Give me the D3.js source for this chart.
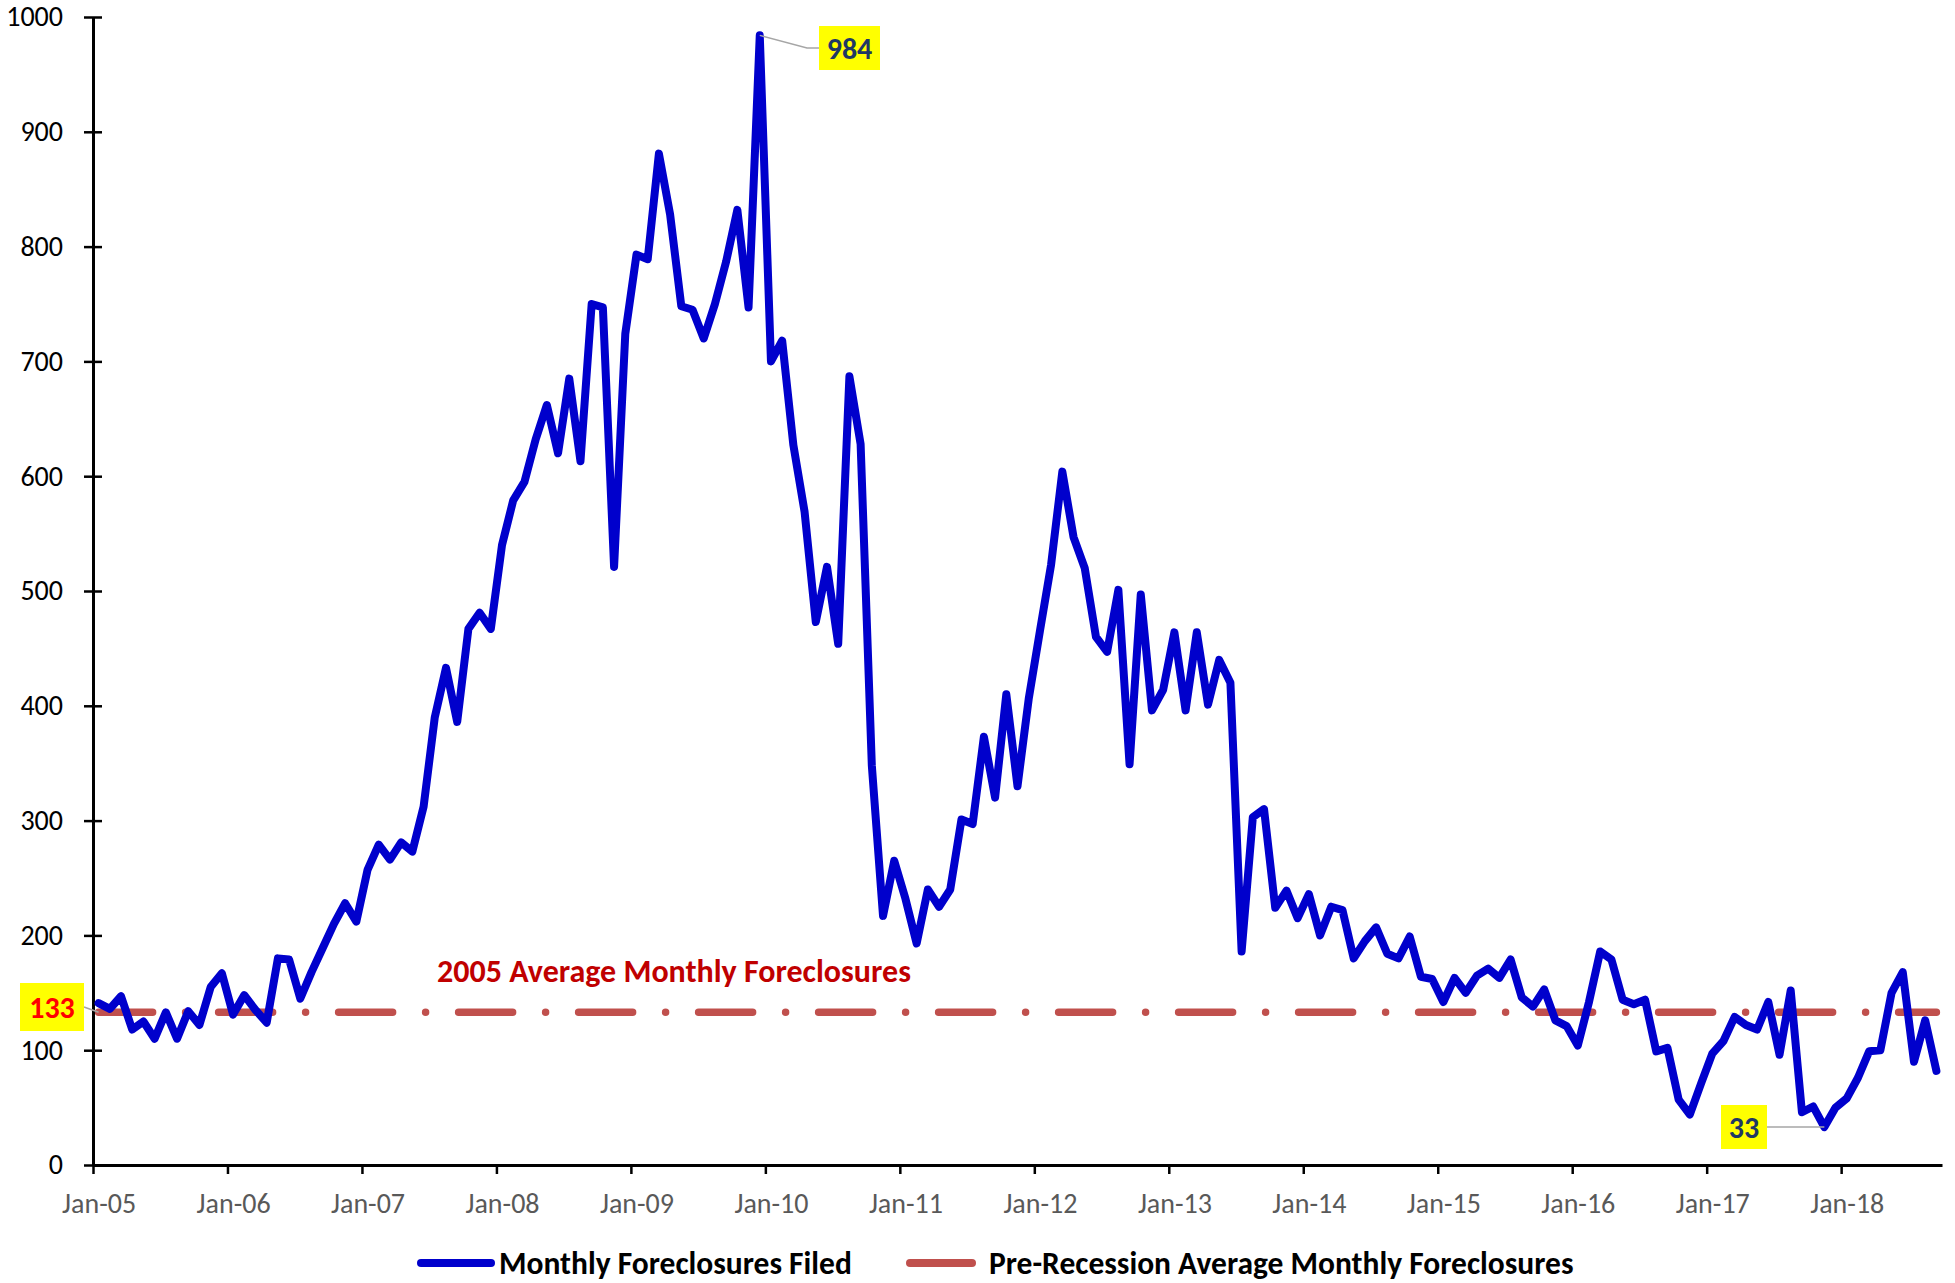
<!DOCTYPE html>
<html>
<head>
<meta charset="utf-8">
<script src="https://cdn.jsdelivr.net/npm/d3@7"></script>
<style>
  body { margin: 0; background: #fff; }
  text { font-family: Carlito, Calibri, Lato, sans-serif; }
</style>
</head>
<body>
<div class="canvas"></div>
<script>
// monthly foreclosures filed, Jan-05 .. Sep-18 (one row per year)
const filings = [
  141, 136, 147, 118, 125, 110, 133, 110, 134, 122, 155, 167,   // 2005
  131, 148, 135, 124, 180, 179, 145, 168, 189, 210, 228, 212,   // 2006
  257, 279, 266, 281, 273, 312, 390, 433, 386, 467, 481, 467,   // 2007
  540, 579, 595, 632, 662, 620, 685, 613, 750, 747, 521, 724,   // 2008
  793, 789, 881, 828, 748, 745, 720, 750, 787, 832, 747, 984,   // 2009
  700, 718, 627, 569, 473, 521, 454, 687, 628, 348, 217, 265,   // 2010
  232, 193, 240, 225, 240, 301, 297, 373, 320, 410, 330, 406,   // 2011
  465, 523, 604, 547, 520, 460, 447, 501, 349, 497, 396, 414,   // 2012
  464, 396, 464, 401, 440, 420, 186, 303, 310, 224, 239, 215,   // 2013
  236, 200, 225, 222, 180, 195, 207, 184, 180, 199, 164, 162,   // 2014
  142, 163, 150, 165, 171, 163, 179, 146, 138, 153, 126, 121,   // 2015
  104, 142, 186, 179, 144, 140, 144, 99, 102, 57, 44, 71,       // 2016
  97, 108, 129, 122, 118, 142, 96, 152, 46, 51, 33, 50,         // 2017
  58, 76, 99, 100, 150, 168, 90, 126, 82                        // 2018
];

const preRecessionAvg = 133;
const xTickLabels = ['Jan-05', 'Jan-06', 'Jan-07', 'Jan-08', 'Jan-09', 'Jan-10', 'Jan-11',
  'Jan-12', 'Jan-13', 'Jan-14', 'Jan-15', 'Jan-16', 'Jan-17', 'Jan-18'];
const yTicks = [0, 100, 200, 300, 400, 500, 600, 700, 800, 900, 1000];
const seriesNames = ['Monthly Foreclosures Filed', 'Pre-Recession Average Monthly Foreclosures'];
const avgLabel = '2005 Average Monthly Foreclosures';

const width = 1955, height = 1283;
const blue = '#0000CC', red = '#C0504D';

const svg = d3.select('.canvas')
  .append('svg')
  .attr('width', width)
  .attr('height', height);

// plot area
const plot = { left: 93, right: 1942, top: 17, bottom: 1165 };
const nSlots = filings.length; // 165 monthly slots

const x = d3.scaleLinear().domain([0, nSlots]).range([plot.left, plot.right]);
const y = d3.scaleLinear().domain([0, 1000]).range([plot.bottom, plot.top]);
const half = (x(1) - x(0)) / 2;

// y axis
const yAxis = d3.axisLeft(y)
  .tickValues(yTicks)
  .tickFormat(d3.format('d'))
  .tickSize(9)
  .tickSizeOuter(0);
const yAxisGroup = svg.append('g')
  .attr('transform', `translate(${plot.left},0)`)
  .call(yAxis);
yAxisGroup.select('.domain').attr('stroke', '#000').attr('stroke-width', 3);
yAxisGroup.selectAll('.tick line').attr('x1', 9).attr('stroke-width', 2.5);
yAxisGroup.selectAll('.tick text')
  .attr('x', -30)
  .attr('fill', '#000')
  .style('font-size', '28px');

// x axis (ticks on Jan boundaries)
const xAxis = d3.axisBottom(x)
  .tickValues(xTickLabels.map((d, i) => i * 12))
  .tickFormat((d, i) => xTickLabels[i])
  .tickSize(9)
  .tickSizeOuter(0);
const xAxisGroup = svg.append('g')
  .attr('transform', `translate(0,${plot.bottom})`)
  .call(xAxis);
xAxisGroup.select('.domain').attr('stroke', '#000').attr('stroke-width', 3);
xAxisGroup.selectAll('.tick line').attr('stroke-width', 2.5);
xAxisGroup.selectAll('.tick text')
  .attr('x', half)
  .attr('y', 38)
  .attr('dy', '0.35em')
  .attr('fill', '#595959')
  .style('font-size', '28px');

// average line
const avgLine = d3.line()
  .x(d => x(d + 0.5))
  .y(() => y(preRecessionAvg));
svg.append('path')
  .attr('d', avgLine([0, nSlots - 1]))
  .attr('fill', 'none')
  .attr('stroke', red)
  .attr('stroke-width', 7.5)
  .attr('stroke-linecap', 'round')
  .attr('stroke-dasharray', '54,33,0,33');

// main series
const line = d3.line()
  .x((d, i) => x(i + 0.5))
  .y(d => y(d));
svg.append('path')
  .attr('d', line(filings))
  .attr('fill', 'none')
  .attr('stroke', blue)
  .attr('stroke-width', 8)
  .attr('stroke-linejoin', 'round')
  .attr('stroke-linecap', 'round');

svg.append('text')
  .attr('x', 674)
  .attr('y', 971)
  .attr('dy', '0.35em')
  .attr('text-anchor', 'middle')
  .attr('fill', '#C00000')
  .attr('font-weight', 'bold')
  .style('font-size', '32px')
  .text(avgLabel);

// callouts
const callout = (label, bx, by, bw, bh, color, pts) => {
  svg.append('path')
    .attr('d', d3.line()(pts))
    .attr('fill', 'none')
    .attr('stroke', '#A6A6A6')
    .attr('stroke-width', 1.5);
  svg.append('rect')
    .attr('x', bx).attr('y', by)
    .attr('width', bw).attr('height', bh)
    .attr('fill', '#FFFF00');
  svg.append('text')
    .attr('x', bx + bw / 2)
    .attr('y', by + bh / 2)
    .attr('dy', '0.35em')
    .attr('text-anchor', 'middle')
    .attr('fill', color)
    .attr('font-weight', 'bold')
    .style('font-size', '30px')
    .text(label);
};

const maxIdx = d3.maxIndex(filings);
const minIdx = d3.minIndex(filings);
callout(filings[maxIdx], 819, 26, 61, 44, '#1F3864',
  [[x(maxIdx + 0.5), y(filings[maxIdx])], [807, 48], [819, 48]]);
callout(filings[minIdx], 1721, 1105, 46, 44, '#1F3864',
  [[1767, y(filings[minIdx])], [x(minIdx + 0.5), y(filings[minIdx])]]);
callout(preRecessionAvg, 20, 983, 64, 48, '#FF0000',
  [[84, 1007], [x(0.5), y(preRecessionAvg)]]);

// legend
const legendY = 1263;
const legend = svg.append('g');
const items = [
  { name: seriesNames[0], color: blue, x1: 421, x2: 491, tx: 499 },
  { name: seriesNames[1], color: red, x1: 910, x2: 972, tx: 989 }
];
items.forEach(it => {
  legend.append('line')
    .attr('x1', it.x1).attr('x2', it.x2)
    .attr('y1', legendY).attr('y2', legendY)
    .attr('stroke', it.color)
    .attr('stroke-width', 8)
    .attr('stroke-linecap', 'round');
  legend.append('text')
    .attr('x', it.tx)
    .attr('y', legendY)
    .attr('dy', '0.35em')
    .attr('font-weight', 'bold')
    .attr('fill', '#000')
    .style('font-size', '31.5px')
    .text(it.name);
});
</script>
</body>
</html>
